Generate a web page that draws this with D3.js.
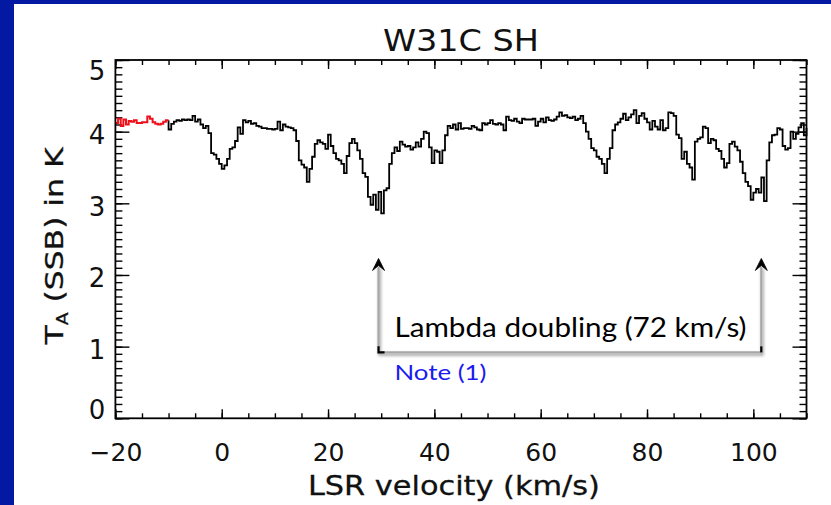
<!DOCTYPE html>
<html>
<head>
<meta charset="utf-8">
<script src="https://cdn.jsdelivr.net/npm/d3@7"></script>
<style>
  html, body { margin: 0; padding: 0; background: #ffffff; }
  #mainDiv { width: 831px; height: 505px; }
</style>
</head>
<body>
<div id="mainDiv"></div>
<script>
'use strict';

// chart data
var chartTitle = 'W31C SH';
var xLabel = 'LSR velocity (km/s)';
var yLabelMain = 'T';
var yLabelSub = 'A';
var yLabelRest = ' (SSB) in K';

var xTicksMajor = [-20, 0, 20, 40, 60, 80, 100];
var yTicksMajor = [0, 1, 2, 3, 4, 5];

// channel grid: -20 .. 110 km/s, 0.5 km/s channels
var channelStart = -20;
var channelEnd = 110;
var channelWidth = 0.5;
var redUntil = -10;   // reference (off-line) part drawn in red

// antenna temperature per channel (K), 10 channels per row
var temps = [
  4.12, 4.18, 4.08, 4.17, 4.10, 4.15, 4.14, 4.16, 4.12, 4.12,   // -20
  4.13, 4.13, 4.21, 4.18, 4.13, 4.11, 4.10, 4.11, 4.14, 4.16,   // -15
  4.03, 4.11, 4.14, 4.16, 4.15, 4.17, 4.16, 4.17, 4.16, 4.22,   // -10
  4.14, 4.17, 4.10, 4.05, 4.08, 3.98, 3.70, 3.68, 3.62, 3.55,   // -5
  3.48, 3.53, 3.62, 3.76, 3.78, 3.87, 4.06, 3.97, 4.16, 4.13,   // 0
  4.15, 4.11, 4.12, 4.08, 4.07, 4.05, 4.05, 4.04, 4.04, 4.03,   // 5
  4.04, 4.14, 4.02, 4.10, 4.07, 4.06, 4.05, 4.02, 3.87, 3.60,   // 10
  3.54, 3.50, 3.30, 3.48, 3.65, 3.83, 3.88, 3.85, 3.83, 3.76,   // 15
  3.96, 3.80, 3.70, 3.62, 3.60, 3.55, 3.42, 3.66, 3.84, 3.90,   // 20
  3.84, 3.74, 3.62, 3.42, 3.37, 3.09, 2.98, 3.12, 2.91, 3.16,   // 25
  2.86, 3.18, 3.21, 3.55, 3.70, 3.78, 3.73, 3.86, 3.82, 3.79,   // 30
  3.80, 3.75, 3.78, 3.85, 3.79, 3.90, 4.00, 3.98, 3.78, 3.56,   // 35
  3.74, 3.72, 3.56, 3.74, 3.95, 4.08, 4.05, 4.10, 4.03, 4.12,   // 40
  4.04, 4.05, 4.05, 4.04, 4.08, 4.06, 4.03, 4.02, 4.12, 4.10,   // 45
  4.12, 4.16, 4.11, 4.10, 4.12, 4.10, 4.02, 4.21, 4.16, 4.15,   // 50
  4.18, 4.14, 4.12, 4.18, 4.17, 4.17, 4.17, 4.18, 4.08, 4.14,   // 55
  4.18, 4.13, 4.20, 4.16, 4.15, 4.17, 4.21, 4.27, 4.22, 4.23,   // 60
  4.20, 4.19, 4.21, 4.16, 4.18, 4.22, 4.12, 4.00, 3.90, 3.77,   // 65
  3.74, 3.65, 3.62, 3.55, 3.42, 3.62, 3.77, 4.02, 4.10, 4.13,   // 70
  4.18, 4.25, 4.16, 4.20, 4.24, 4.30, 4.12, 4.22, 4.26, 4.18,   // 75
  4.13, 4.03, 4.15, 4.07, 4.03, 4.16, 4.02, 4.05, 4.27, 4.26,   // 80
  4.22, 3.96, 3.91, 3.62, 3.72, 3.55, 3.50, 3.33, 3.86, 3.90,   // 85
  3.92, 4.07, 4.05, 3.84, 3.90, 3.88, 3.76, 3.73, 3.62, 3.50,   // 90
  3.56, 3.83, 3.86, 3.79, 3.74, 3.58, 3.42, 3.30, 3.24, 3.05,   // 95
  3.15, 3.20, 3.15, 3.36, 3.03, 3.60, 3.85, 3.95, 3.96, 4.05,   // 100
  4.03, 3.80, 3.75, 3.77, 4.00, 3.90, 3.97, 4.06, 4.12, 3.95,   // 105
  4.05                                                          // 110
];

// annotation (lambda doubling, 72 km/s apart)
var noteText = 'Lambda doubling (72 km/s)';
var noteRef = 'Note (1)';
var lambdaLeft = 29.5;
var lambdaRight = 101.5;
var arrowTop = 2.23;
var arrowBase = 0.92;

var myApp = {};

myApp.margin = {left: 115.4, right: 831 - 806.5, top: 60, bottom: 505 - 418.3};
myApp.width = 831;
myApp.height = 505;

myApp.run = function()
{
    var m = myApp.margin;
    var W = myApp.width, H = myApp.height;
    var pw = W - m.left - m.right;
    var ph = H - m.top - m.bottom;

    var svg = d3.select('#mainDiv').append('svg')
        .attr('width', W)
        .attr('height', H)
        .attr('viewBox', '0 0 ' + W + ' ' + H);

    // drop shadow for the annotation bracket
    var defs = svg.append('defs');
    var f = defs.append('filter').attr('id', 'shadow')
        .attr('x', '-50%').attr('y', '-50%').attr('width', '200%').attr('height', '200%');
    f.append('feDropShadow')
        .attr('dx', 1).attr('dy', 2).attr('stdDeviation', 1.6)
        .attr('flood-color', '#000').attr('flood-opacity', 0.45);

    svg.append('rect').attr('width', W).attr('height', H).attr('fill', '#ffffff');
    // slide border
    svg.append('rect').attr('x', 0).attr('y', 0).attr('width', 14).attr('height', H).attr('fill', '#0419a3');
    svg.append('rect').attr('x', 0).attr('y', 0).attr('width', W).attr('height', 4).attr('fill', '#0419a3');

    var g = svg.append('g').attr('transform', 'translate(' + m.left + ',' + m.top + ')');

    var x = d3.scaleLinear().domain([-20, 110]).range([0, pw]);
    var y = d3.scaleLinear().domain([0, 5]).range([ph, 0]);

    var font = "'DejaVu Sans', 'Liberation Sans', sans-serif";

    // minor ticks
    var xMinor = d3.range(-20, 110.01, 5);
    var yMinor = d3.range(0, 5.001, 0.1).map(function(d){ return +d.toFixed(1); });

    function styleTicks(sel)
    {
        sel.select('.domain').remove();
        sel.selectAll('line').attr('stroke', '#000').attr('stroke-width', 1.4);
    }

    g.append('g').attr('transform', 'translate(0,' + ph + ')')
        .call(d3.axisBottom(x).tickValues(xMinor).tickSize(-5).tickFormat(''))
        .call(styleTicks);
    g.append('g')
        .call(d3.axisTop(x).tickValues(xMinor).tickSize(-5).tickFormat(''))
        .call(styleTicks);
    g.append('g')
        .call(d3.axisTop(x).tickValues(xTicksMajor).tickSize(-9).tickFormat(''))
        .call(styleTicks);
    g.append('g')
        .call(d3.axisLeft(y).tickValues(yMinor).tickSize(-7).tickFormat(''))
        .call(styleTicks);
    g.append('g').attr('transform', 'translate(' + pw + ',0)')
        .call(d3.axisRight(y).tickValues(yMinor).tickSize(-7).tickFormat(''))
        .call(styleTicks);
    g.append('g').attr('transform', 'translate(' + pw + ',0)')
        .call(d3.axisRight(y).tickValues(yTicksMajor).tickSize(-14).tickFormat(''))
        .call(styleTicks);

    // labelled axes
    var xAxis = g.append('g').attr('transform', 'translate(0,' + ph + ')')
        .call(d3.axisBottom(x).tickValues(xTicksMajor).tickSize(-9).tickPadding(0))
        .call(styleTicks);
    xAxis.selectAll('text')
        .attr('y', 42.5).attr('dy', 0)
        .style('font-family', font).style('font-size', '25px').attr('fill', '#111');

    var yShift = {0: -9, 5: 10};
    var yAxis = g.append('g')
        .call(d3.axisLeft(y).tickValues(yTicksMajor).tickSize(-14).tickPadding(10)
            .tickFormat(d3.format('d')))
        .call(styleTicks);
    yAxis.selectAll('text')
        .attr('dy', function(d){ return (9 + (yShift[d] !== undefined ? yShift[d] : 3)) + 'px'; })
        .style('font-family', font).style('font-size', '26px').attr('fill', '#111');

    // spectrum, stepped
    var channels = d3.range(channelStart, channelEnd + channelWidth / 2, channelWidth);
    var pts = channels.map(function(v, i){ return {v: v, t: temps[i]}; });
    var line = d3.line()
        .x(function(d){ return x(d.v); })
        .y(function(d){ return y(d.t); })
        .curve(d3.curveStepAfter);

    var redPts = pts.filter(function(d){ return d.v < redUntil; });
    var blackPts = pts.filter(function(d){ return d.v >= redUntil - channelWidth; });
    blackPts[0] = {v: redUntil, t: blackPts[0].t};

    g.append('path').datum(blackPts)
        .attr('d', line).attr('fill', 'none')
        .attr('stroke', '#000').attr('stroke-width', 1.8);
    g.append('path').datum(redPts.concat([{v: redUntil, t: redPts[redPts.length - 1].t}]))
        .attr('d', line).attr('fill', 'none')
        .attr('stroke', '#f0101a').attr('stroke-width', 2);

    // frame
    g.append('rect').attr('width', pw).attr('height', ph)
        .attr('fill', 'none').attr('stroke', '#000').attr('stroke-width', 1.8);

    // titles
    svg.append('text')
        .attr('x', m.left + pw / 2).attr('y', 51)
        .attr('text-anchor', 'middle')
        .attr('textLength', 156).attr('lengthAdjust', 'spacingAndGlyphs')
        .style('font-family', font).style('font-size', '30px').attr('fill', '#111')
        .text(chartTitle);

    svg.append('text')
        .attr('x', m.left + pw / 2 - 7).attr('y', 495)
        .attr('text-anchor', 'middle')
        .attr('textLength', 292).attr('lengthAdjust', 'spacingAndGlyphs')
        .style('font-family', font).style('font-size', '26px').attr('fill', '#111')
        .attr('stroke', '#111').attr('stroke-width', 0.3)
        .text(xLabel);

    var yl = svg.append('text')
        .attr('transform', 'translate(63,' + 246 + ') rotate(-90)')
        .attr('text-anchor', 'middle')
        .attr('textLength', 197).attr('lengthAdjust', 'spacingAndGlyphs')
        .style('font-family', font).style('font-size', '25px').attr('fill', '#111')
        .attr('stroke', '#111').attr('stroke-width', 0.3);
    yl.append('tspan').text(yLabelMain);
    yl.append('tspan').attr('dy', 5).style('font-size', '15px').text(yLabelSub);
    yl.append('tspan').attr('dy', -5).text(yLabelRest);

    // annotation bracket
    var xl = x(lambdaLeft), xr = x(lambdaRight);
    var yt = y(arrowTop), yb = y(arrowBase);
    var ann = g.append('g');
    ann.append('path')
        .attr('d', 'M' + xl + ',' + (yt + 8) + 'V' + yb + 'H' + xr + 'V' + (yt + 8))
        .attr('fill', 'none').attr('stroke', '#a6a6a6').attr('stroke-width', 2.2)
        .attr('filter', 'url(#shadow)');
    [xl, xr].forEach(function(px)
    {
        ann.append('path')
            .attr('d', 'M' + px + ',' + yt + 'l-6,12l6,-5l6,5z')
            .attr('fill', '#000').attr('stroke', '#000').attr('stroke-width', 0.8)
            .attr('stroke-linejoin', 'round');
    });
    ann.append('path')
        .attr('d', 'M' + xl + ',' + (yb - 6) + 'V' + yb + 'H' + (xl + 6))
        .attr('fill', 'none').attr('stroke', '#000').attr('stroke-width', 2.2);
    ann.append('path')
        .attr('d', 'M' + xr + ',' + (yb - 6) + 'V' + yb)
        .attr('fill', 'none').attr('stroke', '#000').attr('stroke-width', 2.2);

    ann.append('text')
        .attr('x', x(32.5)).attr('y', y(1.134))
        .attr('textLength', 352).attr('lengthAdjust', 'spacingAndGlyphs')
        .style('font-family', "Lato, 'Open Sans', sans-serif").style('font-size', '26px')
        .attr('fill', '#000')
        .text(noteText);
    ann.append('text')
        .attr('x', x(32.5)).attr('y', y(0.535))
        .attr('textLength', 92).attr('lengthAdjust', 'spacingAndGlyphs')
        .style('font-family', "Lato, 'Open Sans', sans-serif").style('font-size', '22px')
        .attr('fill', '#1b1bf0')
        .text(noteRef);
}

window.myApp = myApp;
myApp.run();
</script>
</body>
</html>
